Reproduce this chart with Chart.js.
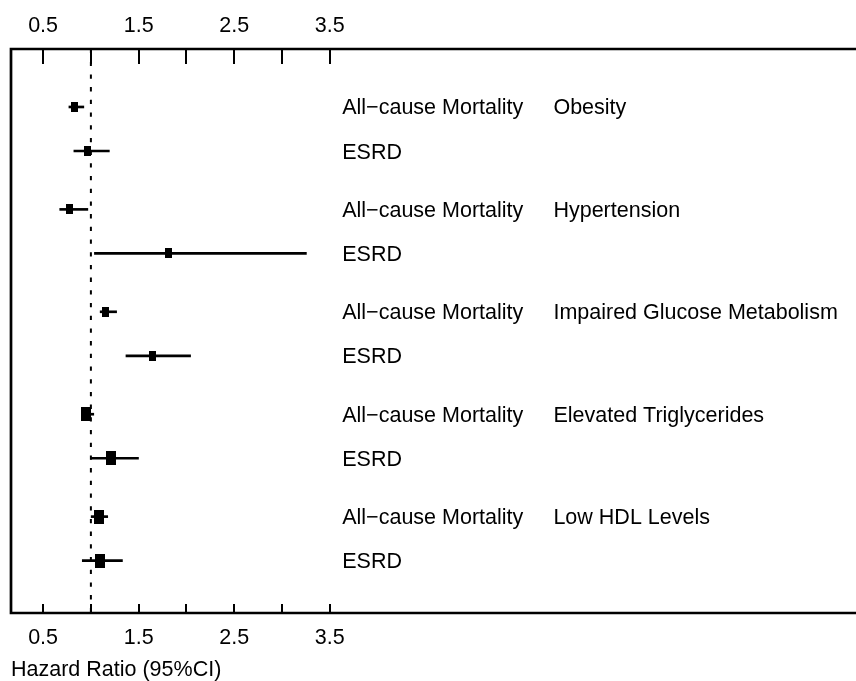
<!DOCTYPE html>
<html>
<head>
<meta charset="utf-8">
<script src="https://cdn.jsdelivr.net/npm/chart.js@4.4.1/dist/chart.umd.min.js"></script>
<style>
  html, body { margin: 0; padding: 0; background: #fff; }
  #wrap { width: 856px; height: 681px; position: relative; }
</style>
</head>
<body>
<div id="wrap"><canvas id="forest"></canvas></div>
<script>
// risk factors (one block each) and the two outcomes per block
const groups = ["Obesity", "Hypertension", "Impaired Glucose Metabolism", "Elevated Triglycerides", "Low HDL Levels"];
const outcomes = ["All\u2212cause Mortality", "ESRD"];

// rows: mortality, ESRD for each risk factor in turn
const hazardRatio = [0.83, 0.965, 0.777, 1.81, 1.155, 1.648, 0.951, 1.211, 1.086, 1.093];
const ciLower     = [0.77, 0.822, 0.674, 1.037, 1.097, 1.367, 0.90, 0.996, 1.003, 0.91];
const ciUpper     = [0.926, 1.193, 0.968, 3.255, 1.269, 2.043, 1.03, 1.498, 1.176, 1.33];

const xTicks = [0.5, 1, 1.5, 2, 2.5, 3, 3.5];
const xTickLabels = ["0.5", "", "1.5", "", "2.5", "", "3.5"];
const refValue = 1;

const FONT = "'Liberation Sans', Arial, sans-serif";
const outcomeColX = 3.63;   // text columns, in x-axis units
const groupColX = 5.84;
const pairGap = 0.43;       // distance between the two outcome rows of a block

const rowY = i => Math.floor(i / 2) + (i % 2) * pairGap;
const yMin = -0.566, yMax = 4.941;

function makeBox(w, h) {
  const c = document.createElement("canvas");
  c.width = w; c.height = h;
  const g = c.getContext("2d");
  g.fillStyle = "#000";
  g.fillRect(0, 0, w, h);
  return c;
}
const smallBox = makeBox(7, 10);
const bigBox = makeBox(10, 14);

const tickOpts = {
  color: "#000",
  font: { family: FONT, size: 21.5 },
  maxRotation: 0,
  autoSkip: false,
  callback: (v, i) => xTickLabels[i],
};

const frame = {
  id: "frame",
  afterDraw(chart) {
    const { ctx, chartArea: a, scales: { x } } = chart;
    ctx.save();
    ctx.strokeStyle = "#000";
    ctx.lineWidth = 2;
    ctx.beginPath();
    xTicks.forEach(v => {
      const px = Math.round(x.getPixelForValue(v));
      ctx.moveTo(px, a.top); ctx.lineTo(px, a.top + 15);
      ctx.moveTo(px, a.bottom); ctx.lineTo(px, a.bottom - 9);
    });
    ctx.stroke();

    ctx.lineWidth = 2.7;
    ctx.beginPath();
    ctx.moveTo(a.right + 10, a.top);
    ctx.lineTo(a.left, a.top);
    ctx.lineTo(a.left, a.bottom);
    ctx.lineTo(a.right + 10, a.bottom);
    ctx.stroke();

    // row labels
    const y = chart.scales.y;
    ctx.fillStyle = "#000";
    ctx.font = "21.5px " + FONT;
    ctx.textBaseline = "alphabetic";
    ctx.textAlign = "left";
    hazardRatio.forEach((v, i) => {
      const py = y.getPixelForValue(rowY(i)) + 7.5;
      ctx.fillText(outcomes[i % 2], x.getPixelForValue(outcomeColX), py);
      if (i % 2 === 0) ctx.fillText(groups[i / 2], x.getPixelForValue(groupColX), py);
    });
    ctx.restore();
  },
};

new Chart(document.getElementById("forest"), {
  type: "scatter",
  data: {
    datasets: [
      {
        label: "HR",
        data: hazardRatio.map((v, i) => ({ x: v, y: rowY(i) })),
        pointStyle: c => (c.dataIndex >= 6 ? bigBox : smallBox),
        pointRadius: 3,
        order: 1,
      },
      {
        type: "bar",
        label: "95% CI",
        indexAxis: "y",
        data: ciLower.map((lo, i) => ({ x: [lo, ciUpper[i]], y: rowY(i) })),
        backgroundColor: "#000",
        borderWidth: 0,
        barThickness: 2,
        grouped: false,
        order: 2,
      },
      {
        type: "line",
        label: "ref",
        data: [{ x: refValue, y: yMin }, { x: refValue, y: yMax }],
        borderColor: "#000",
        borderWidth: 2,
        borderDash: [4.3, 8.4],
        pointRadius: 0,
        fill: false,
        order: 3,
      },
    ],
  },
  options: {
    responsive: true,
    maintainAspectRatio: false,
    animation: false,
    layout: { padding: { left: 11, right: 0, top: 0, bottom: 0 } },
    plugins: { legend: { display: false }, tooltip: { enabled: false } },
    scales: {
      x: {
        type: "linear",
        position: "bottom",
        min: 0.164,
        max: 8.954,
        offset: false,
        afterBuildTicks: s => { s.ticks = xTicks.map(v => ({ value: v })); },
        afterFit: s => { s.height = 68; },
        ticks: { ...tickOpts, padding: 4 },
        grid: { display: false },
        border: { display: false },
        title: {
          display: true,
          text: "Hazard Ratio (95%CI)",
          align: "start",
          color: "#000",
          font: { family: FONT, size: 21.5 },
          padding: { top: 0, bottom: -2 },
        },
      },
      x2: {
        type: "linear",
        position: "top",
        min: 0.164,
        max: 8.954,
        offset: false,
        afterBuildTicks: s => { s.ticks = xTicks.map(v => ({ value: v })); },
        afterFit: s => { s.height = 49; },
        ticks: { ...tickOpts, padding: 2 },
        grid: { display: false },
        border: { display: false },
      },
      y: {
        type: "linear",
        reverse: true,
        offset: false,
        min: yMin,
        max: yMax,
        display: false,
      },
    },
  },
  plugins: [frame],
});
</script>
</body>
</html>
